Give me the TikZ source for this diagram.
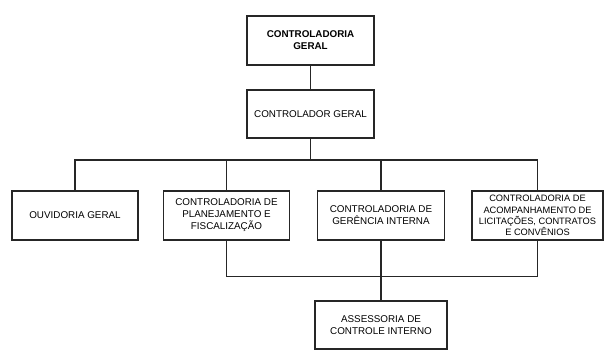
\documentclass[tikz,border=0pt]{standalone}
\usepackage{fontspec}
\setmainfont{Liberation Sans}
\usetikzlibrary{calc,positioning}

\begin{document}
\begin{tikzpicture}[x=0.025cm, y=-0.025cm,
    orgbox/.style={draw=black!85, line width=1pt, align=center, inner sep=2pt,
      font=\fontsize{7}{8.5}\selectfont, minimum width=3.175cm, minimum height=1.225cm},
    smalltext/.style={font=\fontsize{6.6}{8}\selectfont},
    link/.style={draw=black!85, line width=1pt},
  ]
  \useasboundingbox (0,0) rectangle (605,360);
  % top of the chart
  \node[orgbox, font=\fontsize{7}{8.5}\selectfont\bfseries] (geral) at (310.5,40.5) {CONTROLADORIA\\GERAL};
  \node[orgbox, minimum height=1.2cm] (controlador) at (310.5,114) {CONTROLADOR GERAL};
  % second level
  \node[orgbox, minimum width=3.15cm] (ouvidoria) at (75,215.5) {OUVIDORIA GERAL};
  \node[orgbox, minimum width=3.15cm] (planej) at (226.5,215.5) {CONTROLADORIA DE\\PLANEJAMENTO E\\FISCALIZAÇÃO};
  \node[orgbox] (gerencia) at (381,215.5) {CONTROLADORIA DE\\GERÊNCIA INTERNA};
  \node[orgbox, smalltext, minimum width=3.275cm] (licit) at (537.5,215.5) {CONTROLADORIA DE\\ACOMPANHAMENTO DE\\LICITAÇÕES, CONTRATOS\\E CONVÊNIOS};
  % advisory unit
  \node[orgbox, minimum width=3.3cm, minimum height=1.2cm] (assess) at (381,325) {ASSESSORIA DE\\CONTROLE INTERNO};

  \coordinate (bus) at (0,160);
  \coordinate (low) at (0,276.5);
  \draw[link] (geral) -- (controlador);
  \draw[link] (controlador.south) -- (controlador.south |- bus);
  \draw[link] (ouvidoria.north) |- (licit.north |- bus) -- (licit.north);
  \draw[link] (planej.north) -- (planej.north |- bus);
  \draw[link] (gerencia.north) -- (gerencia.north |- bus);
  \draw[link] (planej.south) |- (licit.south |- low) -- (licit.south);
  \draw[link] (gerencia) -- (assess);
\end{tikzpicture}
\end{document}
